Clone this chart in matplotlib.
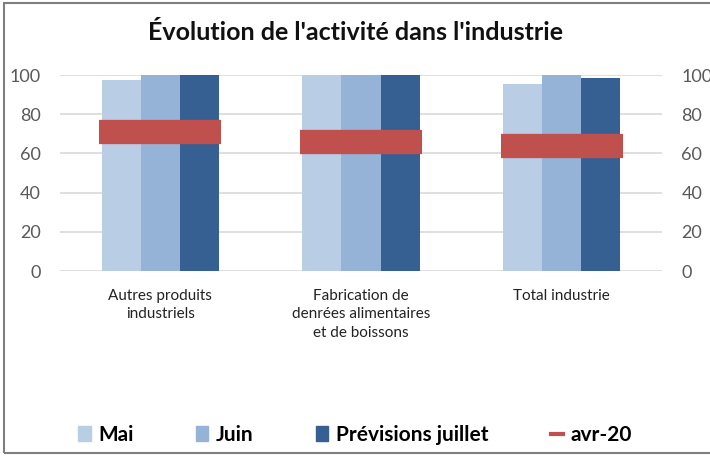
import numpy as np
import matplotlib
matplotlib.use('Agg')
import matplotlib.pyplot as plt
from matplotlib.lines import Line2D
from matplotlib.patches import Patch, Rectangle

plt.rcParams['font.family'] = ['Lato', 'DejaVu Sans']

# data
categories = ['Autres produits\nindustriels',
              'Fabrication de\ndenrées alimentaires\net de boissons',
              'Total industrie']
mai = [97.5, 100, 95.5]
juin = [100, 100, 100]
previsions = [100, 100, 98.5]
avr20 = [71, 66, 64]
yticks = [0, 20, 40, 60, 80, 100]

c_mai = '#b9cde5'
c_juin = '#95b3d7'
c_prev = '#366092'
c_avr = '#c0504d'
txt = '#595959'

fig = plt.figure(figsize=(7.1, 4.57), dpi=100)
ax = fig.add_axes([60 / 710, 1 - 271 / 457, 602 / 710, 196 / 457])

x = np.arange(len(categories))
w = 0.195
ax.bar(x - w, mai, w, color=c_mai, zorder=2)
ax.bar(x, juin, w, color=c_juin, zorder=2)
ax.bar(x + w, previsions, w, color=c_prev, zorder=2)
ax.plot(x, avr20, linestyle='none', marker='_', markersize=88,
        markeredgewidth=17.5, color=c_avr, zorder=3)

ax.set_xlim(-0.5, len(categories) - 0.5)
ax.set_ylim(0, 100)
ax.set_yticks(yticks)
ax.yaxis.grid(True, color='#d9d9d9', linewidth=1.2, zorder=0)
ax.set_axisbelow(True)
for s in ax.spines.values():
    s.set_visible(False)
ax.tick_params(axis='y', length=0, pad=14, labelsize=13, labelcolor=txt)
ax.set_xticks(x)
ax.set_xticklabels(categories, fontsize=11, color='#222222', linespacing=1.4)
ax.tick_params(axis='x', length=0, pad=13)

ax2 = ax.twinx()
ax2.set_ylim(0, 100)
ax2.set_yticks(yticks)
for s in ax2.spines.values():
    s.set_visible(False)
ax2.tick_params(axis='y', length=0, pad=14, labelsize=13, labelcolor=txt)

fig.text(0.5, 1 - 32 / 457, "Évolution de l'activité dans l'industrie",
         ha='center', va='center', fontsize=18, fontweight='bold', color='#111111')

handles = [Patch(color=c_mai), Patch(color=c_juin), Patch(color=c_prev),
           Line2D([0], [0], color=c_avr, lw=3)]
labels = ['Mai', 'Juin', 'Prévisions juillet', 'avr-20']
fig.legend(handles, labels, loc='center', bbox_to_anchor=(0.5, 1 - 435 / 457),
           ncol=4, frameon=False, handlelength=0.6, handleheight=0.7,
           handletextpad=0.35, columnspacing=3.0,
           prop={'weight': 'bold', 'size': 15})

fig.patches.append(Rectangle((4 / 710, 4 / 457), 1.1, 1 - 7 / 457,
                             transform=fig.transFigure, fill=False,
                             edgecolor='#7f7f7f', linewidth=1.5))

fig.savefig('out.png', dpi=100)
